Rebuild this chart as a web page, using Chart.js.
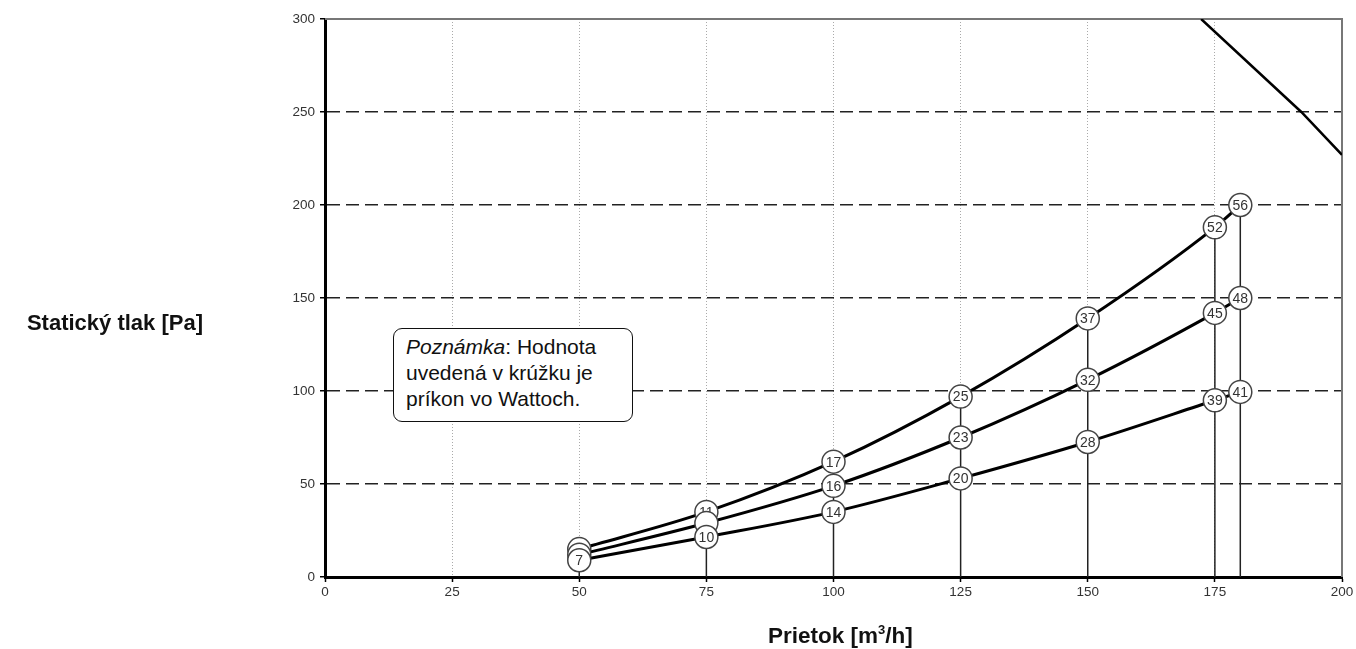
<!DOCTYPE html>
<html>
<head>
<meta charset="utf-8">
<script src="https://cdn.jsdelivr.net/npm/chart.js@4.4.1/dist/chart.umd.min.js"></script>
<style>
  html, body { margin: 0; padding: 0; background: #fff; }
  #wrap { position: relative; width: 1356px; height: 649px; font-family: "Liberation Sans", Arial, sans-serif; color: #111; }
  #chart { position: absolute; left: 0; top: 0; }
  .ytitle { position: absolute; right: 1153px; top: 310px; font-weight: bold; font-size: 22px; white-space: nowrap; }
  .xtitle { position: absolute; left: 768px; top: 623px; font-weight: bold; font-size: 22.5px; white-space: nowrap; }
  .xtitle sup { font-size: 13px; vertical-align: 9px; line-height: 0; }
  .note {
    position: absolute; left: 393px; top: 328px; width: 214px; height: 82px;
    padding: 5px 12px 5px 12px; border: 1.5px solid #111; border-radius: 9px;
    background: #fff; font-size: 21px; line-height: 26px; white-space: nowrap;
  }
</style>
</head>
<body>
<div id="wrap">
  <canvas id="chart" width="1356" height="649"></canvas>
  <div class="ytitle">Statický tlak [Pa]</div>
  <div class="xtitle">Prietok [m<sup>3</sup>/h]</div>
  <div class="note"><i>Poznámka</i>: Hodnota<br>uvedená v krúžku je<br>príkon vo Wattoch.</div>
</div>
<script>
// prietok [m3/h]
const flow = [50, 75, 100, 125, 150, 175, 180];

// staticky tlak [Pa] pre tri krivky
const pressHigh = [15, 35, 62, 97, 139, 188, 200];
const pressMid = [12, 29, 49, 75, 106, 142, 150];
const pressLow = [9, 21.5, 35, 53, 72.6, 95, 99.5];

// prikon [W] v kruzkoch (null = prekryty kruzok)
const powerHigh = [null, 11, 17, 25, 37, 52, 56];
const powerMid = [null, null, 16, 23, 32, 45, 48];
const powerLow = [7, 10, 14, 20, 28, 39, 41];

// hranicna krivka vpravo hore
const limitFlow = [172.3, 192, 200];
const limitPress = [300, 250, 227];

const xTicks = [0, 25, 50, 75, 100, 125, 150, 175, 200];
const yTicks = [0, 50, 100, 150, 200, 250, 300];

Chart.defaults.font.family = '"Liberation Sans", Arial, sans-serif';

function toPoints(xs, ys) {
  return xs.map((x, i) => ({ x: x, y: ys[i] }));
}

function curve(ys, labels, order) {
  return {
    data: toPoints(flow, ys),
    powerLabels: labels,
    borderColor: "#000",
    borderWidth: 3,
    cubicInterpolationMode: "monotone",
    pointRadius: 11.5,
    pointBackgroundColor: "#fff",
    pointBorderColor: "#444",
    pointBorderWidth: 1.5,
    order: order
  };
}

// zvisle ciary od osi ku najvyssiemu kruzku
const verticals = flow.map((f, i) => ({
  data: [{ x: f, y: 0 }, { x: f, y: pressHigh[i] }],
  borderColor: "#222",
  borderWidth: 1.5,
  pointRadius: 0,
  order: 10
}));

const labelPlugin = {
  id: "powerLabels",
  afterDatasetDraw(chart, args) {
    const ds = chart.data.datasets[args.index];
    if (!ds.powerLabels) return;
    const ctx = chart.ctx;
    ctx.save();
    ctx.fillStyle = "#333";
    ctx.font = '14px "Liberation Sans", Arial, sans-serif';
    ctx.textAlign = "center";
    ctx.textBaseline = "middle";
    args.meta.data.forEach((pt, i) => {
      const lab = ds.powerLabels[i];
      if (lab === null) return;
      ctx.fillText(String(lab), pt.x, pt.y + 1);
    });
    ctx.restore();
  }
};

const framePlugin = {
  id: "frame",
  beforeDatasetsDraw(chart) {
    const a = chart.chartArea;
    const ctx = chart.ctx;
    ctx.save();
    ctx.strokeStyle = "#777";
    ctx.lineWidth = 2;
    ctx.beginPath();
    ctx.moveTo(a.left, a.top);
    ctx.lineTo(a.right, a.top);
    ctx.lineTo(a.right, a.bottom);
    ctx.stroke();
    ctx.restore();
  }
};

new Chart(document.getElementById("chart"), {
  type: "line",
  data: {
    datasets: [
      ...verticals,
      {
        data: toPoints(limitFlow, limitPress),
        borderColor: "#000",
        borderWidth: 2.5,
        pointRadius: 0,
        order: 4
      },
      curve(pressHigh, powerHigh, 3),
      curve(pressMid, powerMid, 2),
      curve(pressLow, powerLow, 1)
    ]
  },
  options: {
    responsive: false,
    animation: false,
    layout: { padding: { left: 0, right: 14, top: 19, bottom: 0 } },
    plugins: { legend: { display: false }, tooltip: { enabled: false } },
    scales: {
      x: {
        type: "linear",
        min: 0,
        max: 200,
        afterFit: s => { s.height = 72; },
        afterBuildTicks: s => { s.ticks = xTicks.map(v => ({ value: v })); },
        ticks: { color: "#333", font: { size: 13.5 }, padding: 2 },
        grid: { color: "#aaa", lineWidth: 1, tickLength: 5, tickColor: "#000", tickWidth: 1.5 },
        border: { color: "#000", width: 3, dash: [1, 2] }
      },
      y: {
        min: 0,
        max: 300,
        afterFit: s => { s.width = 325; },
        afterBuildTicks: s => { s.ticks = yTicks.map(v => ({ value: v })); },
        ticks: { color: "#333", font: { size: 13.5 }, padding: 5 },
        grid: { color: "#222", lineWidth: 1.5, tickLength: 5, tickColor: "#000", tickWidth: 1.5 },
        border: { color: "#000", width: 3, dash: [13, 6] }
      }
    }
  },
  plugins: [framePlugin, labelPlugin]
});
</script>
</body>
</html>
